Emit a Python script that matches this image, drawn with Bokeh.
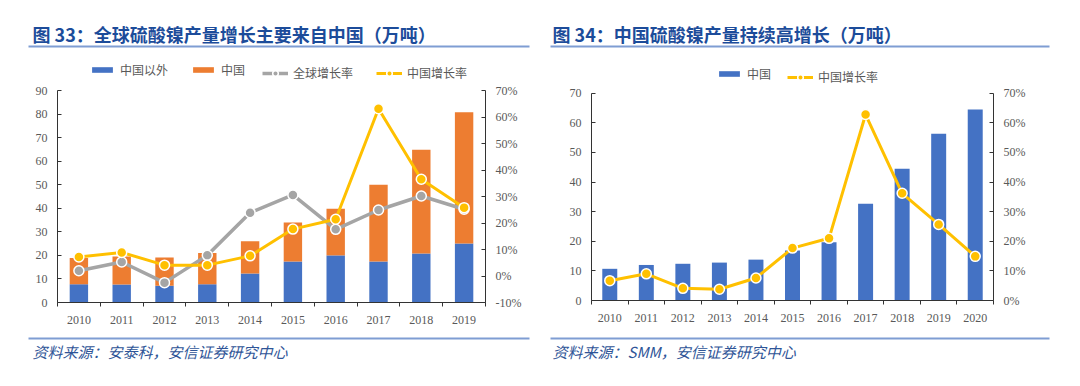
import numpy as np
from bokeh.plotting import figure
from bokeh.models import (Range1d, LinearAxis, SingleIntervalTicker, FixedTicker,
                          PrintfTickFormatter, Label, BoxAnnotation, Legend, LegendItem,
                          ColumnDataSource)
from bokeh.embed import file_html
from bokeh.resources import INLINE

# ---------------- data ----------------
years_a = [2010, 2011, 2012, 2013, 2014, 2015, 2016, 2017, 2018, 2019]
outside_china_a = [7.8, 7.6, 7.1, 7.8, 12.3, 17.4, 20.0, 17.4, 20.8, 25.0]
china_a = [11.1, 11.9, 12.0, 13.2, 13.7, 16.6, 19.8, 32.6, 44.0, 55.8]
global_growth_a = [2.0, 5.3, -2.5, 7.8, 23.9, 30.6, 17.6, 24.9, 30.2, 25.2]
china_growth_a = [7.2, 8.9, 4.1, 4.1, 7.6, 17.7, 21.4, 63.1, 36.5, 25.8]

years_b = [2010, 2011, 2012, 2013, 2014, 2015, 2016, 2017, 2018, 2019, 2020]
china_b = [10.7, 12.0, 12.4, 12.8, 13.8, 16.9, 19.7, 32.7, 44.5, 56.3, 64.5]
china_growth_b = [6.7, 9.0, 4.1, 3.8, 7.6, 17.7, 21.0, 62.8, 36.2, 25.7, 14.9]

title_a = "图 33：全球硫酸镍产量增长主要来自中国（万吨）"
title_b = "图 34：中国硫酸镍产量持续高增长（万吨）"
source_a = "资料来源：安泰科，安信证券研究中心"
source_b = "资料来源：SMM，安信证券研究中心"
legend_a = ["中国以外", "中国", "全球增长率", "中国增长率"]
legend_b = ["中国", "中国增长率"]

BLUE = "#4472C4"
ORANGE = "#ED7D31"
GRAY = "#A5A5A5"
YELLOW = "#FFC000"
TITLE_C = "#1C4C9A"
LINE_C = "#7F9DD3"
SRC_C = "#2F5597"
TICK_C = "#595959"
AXIS_C = "#333333"
CJK = "Noto Sans CJK SC"
SERIF = "Liberation Serif"

# window geometry; Bokeh's page template puts the canvas at the window's top-left
W, H = 1080, 386
PX0, PY0 = 0, 0


def sx(px):
    return px - PX0


def sy(py):
    return (PY0 + H) - py


def range_for_x(v0, p0, v1, p1):
    k = (v1 - v0) / (p1 - p0)
    return Range1d(v0 + (PX0 - p0) * k, v0 + (PX0 + W - p0) * k)


def range_for_y(v0, p0, v1, p1):
    k = (v1 - v0) / (p1 - p0)
    return Range1d(v0 + (PY0 + H - p0) * k, v0 + (PY0 - p0) * k)


p = figure(width=W, height=H, output_backend="svg", toolbar_location=None,
           x_range=Range1d(0, W), y_range=Range1d(0, H),
           min_border=0, x_axis_type=None, y_axis_type=None)
p.outline_line_color = None
p.xgrid.visible = False
p.ygrid.visible = False

# chart A frame: x 57..485, y 302 (0) .. 90 (top)
p.extra_x_ranges["xa"] = range_for_x(years_a[0] - 0.5, 57, years_a[-1] + 0.5, 485)
p.extra_y_ranges["ya"] = range_for_y(0, 302, 90, 90)
p.extra_y_ranges["pa"] = range_for_y(-10, 302, 70, 90)
# chart B frame: x 591..993, y 300 (0) .. 92.7 (top)
p.extra_x_ranges["xb"] = range_for_x(years_b[0] - 0.5, 591, years_b[-1] + 0.5, 993)
p.extra_y_ranges["yb"] = range_for_y(0, 300, 70, 92.7)
p.extra_y_ranges["pb"] = range_for_y(0, 300, 70, 92.7)


def style_axis(ax):
    ax.axis_line_color = AXIS_C
    ax.axis_line_width = 1
    ax.major_label_text_font = SERIF
    ax.major_label_text_font_size = "12px"
    ax.major_label_text_color = TICK_C
    ax.major_tick_line_color = AXIS_C
    ax.minor_tick_line_color = AXIS_C


def add_axes(xr, yr, pr, years, ymax, pmin, pmax):
    yl = LinearAxis(x_range_name=xr, y_range_name=yr, fixed_location=years[0] - 0.5,
                    bounds=(0, ymax),
                    ticker=SingleIntervalTicker(interval=10, num_minor_ticks=0))
    style_axis(yl)
    yl.major_tick_in, yl.major_tick_out = 4, 0
    yl.minor_tick_in, yl.minor_tick_out = 0, 0
    yl.major_label_standoff = 10
    p.add_layout(yl, "left")

    ya2 = LinearAxis(x_range_name=xr, y_range_name=pr, fixed_location=years[-1] + 0.5,
                     bounds=(pmin, pmax),
                     ticker=SingleIntervalTicker(interval=10, num_minor_ticks=0),
                     formatter=PrintfTickFormatter(format="%d%%"))
    style_axis(ya2)
    ya2.major_tick_in, ya2.major_tick_out = 4, 0
    ya2.minor_tick_in, ya2.minor_tick_out = 0, 0
    ya2.major_label_standoff = 10
    p.add_layout(ya2, "right")

    bounds = [y - 0.5 for y in years] + [years[-1] + 0.5]
    xa = LinearAxis(x_range_name=xr, y_range_name=yr, fixed_location=0,
                    bounds=(years[0] - 0.5, years[-1] + 0.5),
                    ticker=FixedTicker(ticks=years, minor_ticks=bounds))
    style_axis(xa)
    xa.major_tick_in, xa.major_tick_out = 0, 0
    xa.minor_tick_in, xa.minor_tick_out = 0, 4
    xa.major_label_standoff = 9
    p.add_layout(xa, "below")


def add_legend(renderers, label, px, py, gh=14):
    lg = Legend(items=[LegendItem(label=label, renderers=renderers)],
                location=(sx(px), sy(py) - gh / 2), orientation="horizontal",
                padding=0, margin=0, border_line_color=None, background_fill_alpha=0,
                glyph_width=26, glyph_height=gh, label_height=gh, label_standoff=5,
                label_text_font=CJK, label_text_font_size="12px",
                label_text_color=TICK_C)
    p.add_layout(lg)


def deco(title, src, tx, lx0, lx1):
    p.add_layout(Label(x=sx(tx), y=sy(33), x_units="screen", y_units="screen", text=title,
                       text_font=CJK, text_font_style="bold", text_font_size="18px",
                       text_color=TITLE_C, text_baseline="middle", text_align="left"))
    for yy in (46, 338):
        p.add_layout(BoxAnnotation(left=sx(lx0), right=sx(lx1), top=sy(yy - 1), bottom=sy(yy + 1),
                                   left_units="screen", right_units="screen",
                                   top_units="screen", bottom_units="screen",
                                   fill_color=LINE_C, fill_alpha=1, line_color=None))
    p.add_layout(Label(x=sx(tx), y=sy(351), x_units="screen", y_units="screen", text=src,
                       text_font=CJK, text_font_style="italic", text_font_size="15px",
                       text_color=SRC_C, text_baseline="middle", text_align="left"))


# ---------------- chart A ----------------
src_a = ColumnDataSource(dict(
    x=years_a,
    outside=outside_china_a,
    china=china_a,
    total=list(np.array(outside_china_a) + np.array(china_a)),
    gg=global_growth_a,
    cg=china_growth_a,
))
kw_a = dict(x_range_name="xa", y_range_name="ya")
kp_a = dict(x_range_name="xa", y_range_name="pa")
bar_out = p.vbar(x="x", width=0.43, bottom=0, top="outside", source=src_a,
                 fill_color=BLUE, line_color=None, **kw_a)
bar_cn = p.vbar(x="x", width=0.43, bottom="outside", top="total", source=src_a,
                fill_color=ORANGE, line_color=None, **kw_a)
g_line = p.line("x", "gg", source=src_a, line_color=GRAY, line_width=3.5, **kp_a)
g_dot = p.scatter("x", "gg", source=src_a, size=10,
                  fill_color=GRAY, line_color="white", line_width=1.5, **kp_a)
c_line = p.line("x", "cg", source=src_a, line_color=YELLOW, line_width=3, **kp_a)
c_dot = p.scatter("x", "cg", source=src_a, size=10,
                  fill_color=YELLOW, line_color="white", line_width=1.5, **kp_a)
add_axes("xa", "ya", "pa", years_a, 90, -10, 70)
add_legend([bar_out], legend_a[0], 89, 74, gh=7)
add_legend([bar_cn], legend_a[1], 190, 74, gh=7)
add_legend([g_line, g_dot], legend_a[2], 262, 74)
add_legend([c_line, c_dot], legend_a[3], 376, 74)
deco(title_a, source_a, 32, 28, 529)

# ---------------- chart B ----------------
src_b = ColumnDataSource(dict(x=years_b, china=china_b, cg=china_growth_b))
bar_b = p.vbar(x="x", width=0.41, bottom=0, top="china", source=src_b,
               fill_color=BLUE, line_color=None, x_range_name="xb", y_range_name="yb")
cb_line = p.line("x", "cg", source=src_b, line_color=YELLOW, line_width=3,
                 x_range_name="xb", y_range_name="pb")
cb_dot = p.scatter("x", "cg", source=src_b, size=10, fill_color=YELLOW,
                   line_color="white", line_width=1.5, x_range_name="xb", y_range_name="pb")
add_axes("xb", "yb", "pb", years_b, 70, 0, 70)
add_legend([bar_b], legend_b[0], 716, 78, gh=7)
add_legend([cb_line, cb_dot], legend_b[1], 787, 78)
deco(title_b, source_b, 552, 550, 1049)

open("out.html", "w").write(file_html(p, INLINE))
